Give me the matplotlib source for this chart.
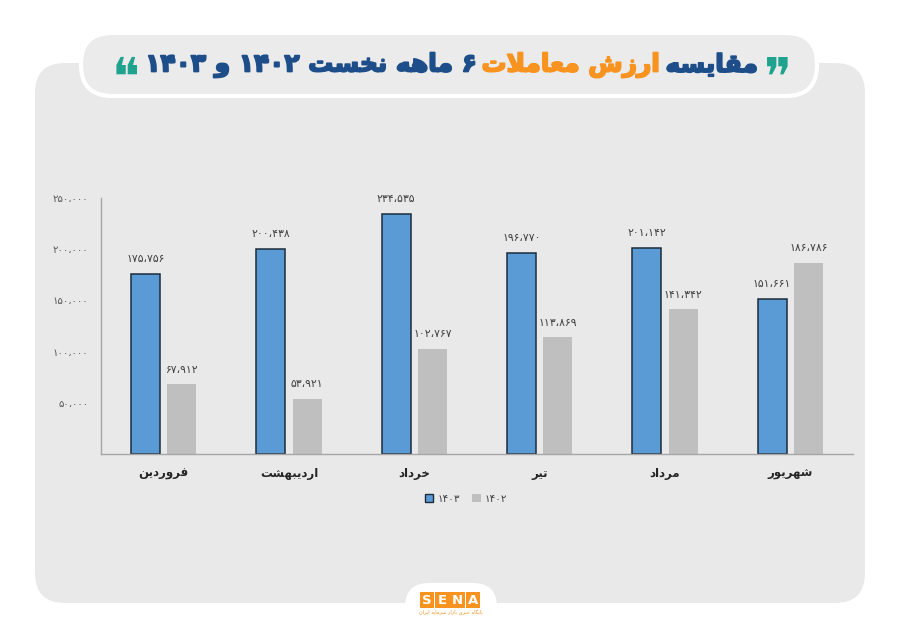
import re
import numpy as np
import matplotlib
matplotlib.use("Agg")
import matplotlib.pyplot as plt
import matplotlib.patheffects as pe
from matplotlib.patches import FancyBboxPatch, Rectangle, Patch

# data
months = ["فروردین", "اردیبهشت", "خرداد", "تیر", "مرداد", "شهریور"]
values_1403 = [175756, 200438, 234535, 196770, 201142, 151661]
values_1402 = [67912, 53921, 102767, 113869, 141342, 186786]
y_ticks = [50000, 100000, 150000, 200000, 250000]
series_names = ["۱۴۰۳", "۱۴۰۲"]
title_parts = [("مقایسه", "#1d4e89"), ("ارزش معاملات", "#f7931e"),
               ("۶ ماهه نخست ۱۴۰۲ و ۱۴۰۳", "#1d4e89")]
logo_sub = "پایگاه خبری بازار سرمایه ایران"

BLUE = "#5b9bd5"
GRAY = "#bfbfbf"
ORANGE = "#f7931e"
TEAL = "#1fa38e"

plt.rcParams['font.family'] = ['DejaVu Sans']

# matplotlib has no arabic shaping, so do it by hand with presentation forms
FORMS = {
    'ا': ('\uFE8D', '\uFE8E', None, None),
    'ب': ('\uFE8F', '\uFE90', '\uFE91', '\uFE92'),
    'پ': ('\uFB56', '\uFB57', '\uFB58', '\uFB59'),
    'ت': ('\uFE95', '\uFE96', '\uFE97', '\uFE98'),
    'خ': ('\uFEA5', '\uFEA6', '\uFEA7', '\uFEA8'),
    'د': ('\uFEA9', '\uFEAA', None, None),
    'ر': ('\uFEAD', '\uFEAE', None, None),
    'ز': ('\uFEAF', '\uFEB0', None, None),
    'س': ('\uFEB1', '\uFEB2', '\uFEB3', '\uFEB4'),
    'ش': ('\uFEB5', '\uFEB6', '\uFEB7', '\uFEB8'),
    'ع': ('\uFEC9', '\uFECA', '\uFECB', '\uFECC'),
    'ف': ('\uFED1', '\uFED2', '\uFED3', '\uFED4'),
    'ق': ('\uFED5', '\uFED6', '\uFED7', '\uFED8'),
    'گ': ('\uFB92', '\uFB93', '\uFB94', '\uFB95'),
    'ل': ('\uFEDD', '\uFEDE', '\uFEDF', '\uFEE0'),
    'م': ('\uFEE1', '\uFEE2', '\uFEE3', '\uFEE4'),
    'ن': ('\uFEE5', '\uFEE6', '\uFEE7', '\uFEE8'),
    'ه': ('\uFEE9', '\uFEEA', '\uFEEB', '\uFEEC'),
    'و': ('\uFEED', '\uFEEE', None, None),
    'ی': ('\uFBFC', '\uFBFD', '\uFBFE', '\uFBFF'),
}


def dual(c):
    return c in FORMS and FORMS[c][2] is not None


def shape(word):
    out = []
    i, n = 0, len(word)
    while i < n:
        c = word[i]
        if c not in FORMS:
            out.append(c)
            i += 1
            continue
        prev_j = i > 0 and dual(word[i - 1])
        if c == 'ل' and i + 1 < n and word[i + 1] == 'ا':
            out.append('\uFEFC' if prev_j else '\uFEFB')
            i += 2
            continue
        next_j = dual(c) and i + 1 < n and word[i + 1] in FORMS
        iso, fin, ini, med = FORMS[c]
        if prev_j and next_j:
            out.append(med)
        elif prev_j:
            out.append(fin)
        elif next_j:
            out.append(ini)
        else:
            out.append(iso)
        i += 1
    return ''.join(out)


def rtl(text):
    s = shape(text)[::-1]
    return re.sub('[۰-۹،]+', lambda m: m.group(0)[::-1], s)


def fa(n):
    return f"{n:,}".translate(str.maketrans("0123456789,", "۰۱۲۳۴۵۶۷۸۹،"))


fig = plt.figure(figsize=(9, 6.36), dpi=100)

# background decoration in pixel coords
bg = fig.add_axes([0, 0, 1, 1], zorder=0)
bg.set_xlim(0, 900)
bg.set_ylim(636, 0)
bg.axis('off')
bg.add_patch(FancyBboxPatch((35, 63), 830, 540, boxstyle="round,pad=0,rounding_size=30",
                            fc="#e9e9e9", ec="none"))
bg.add_patch(FancyBboxPatch((81, 33), 736, 63, boxstyle="round,pad=0,rounding_size=31",
                            fc="#ebebeb", ec="white", lw=3))
bg.add_patch(FancyBboxPatch((405, 583), 92, 80, boxstyle="round,pad=0,rounding_size=24",
                            fc="white", ec="none"))

# SENA logo
for k, ch in enumerate("SENA"):
    bg.add_patch(Rectangle((420 + k * 15.2, 592), 14.4, 15.5, fc=ORANGE, ec="none"))
    bg.text(420 + k * 15.2 + 7.2, 600, ch, color="white", fontsize=9.5, fontweight="bold",
            ha="center", va="center")
bg.text(450.5, 613, rtl(logo_sub), color=ORANGE, fontsize=3.6, ha="center", va="center")

# title, coloured pieces laid out right to left
renderer = fig.canvas.get_renderer()


def width_of(s, size):
    t = bg.text(0, 0, s, fontsize=size, fontweight="bold")
    w = t.get_window_extent(renderer).width
    t.remove()
    return w


pieces = [(rtl(s), c) for s, c in title_parts]
base = 20
gap = base * 0.3
total = sum(width_of(s, base) for s, _ in pieces) + gap * (len(pieces) - 1)
size = base * 612 / total
gap = size * 0.3
right_edge = 452 + 612 / 2
x = right_edge
for s, c in pieces:
    t = bg.text(x, 65, s, fontsize=size, fontweight="bold", color=c, ha="right", va="center",
                path_effects=[pe.withStroke(linewidth=1.3, foreground=c)])
    x -= t.get_window_extent(renderer).width + gap
left_edge = x + gap
qs = size * 2.1
bg.text(right_edge + 6, 64 + qs * 0.62 * 100 / 72 - 2, "\u275e", fontsize=qs, color=TEAL,
        ha="left", va="baseline")
bg.text(left_edge - 6, 64 + qs * 0.62 * 100 / 72 - 2, "\u275d", fontsize=qs, color=TEAL,
        ha="right", va="baseline")

# the chart itself
ax = fig.add_axes([101 / 900, 1 - 454 / 636, 752 / 900, 256 / 636], zorder=2)
ax.set_facecolor("none")
x = np.arange(len(months))
w = 0.23
off = 0.145
ax.bar(x - off, values_1403, w, color=BLUE, edgecolor="#1c2b3a", linewidth=1.1)
ax.bar(x + off, values_1402, w, color=GRAY, edgecolor="none")

for xs, vals in ((x - off, values_1403), (x + off, values_1402)):
    for xi, v in zip(xs, vals):
        ax.annotate(fa(v), (xi, v), xytext=(0, 7), textcoords="offset points",
                    ha="center", va="bottom", fontsize=7.8, color="#404040")

ax.set_xlim(-0.5, 5.5)
ax.set_ylim(0, 250000)
ax.set_yticks(y_ticks)
ax.set_yticklabels([fa(v) for v in y_ticks], fontsize=7.3, color="#595959")
ax.set_xticks(x)
ax.set_xticklabels([rtl(m) for m in months], fontsize=8.5, fontweight="bold", color="#262626")
ax.tick_params(axis="y", length=0, pad=9)
ax.tick_params(axis="x", length=0, pad=9)
for side in ("top", "right"):
    ax.spines[side].set_visible(False)
for side in ("left", "bottom"):
    ax.spines[side].set_color("#a6a6a6")
    ax.spines[side].set_linewidth(1)

handles = [Patch(fc=BLUE, ec="#1c2b3a", lw=1), Patch(fc=GRAY, ec="none")]
fig.legend(handles, series_names, loc="center", bbox_to_anchor=(466 / 900, 1 - 499 / 636),
           ncol=2, frameon=False, fontsize=7.5, handlelength=0.8, handleheight=0.8,
           columnspacing=1.2, handletextpad=0.4, labelcolor="#404040")

fig.savefig("out.png", dpi=100)
